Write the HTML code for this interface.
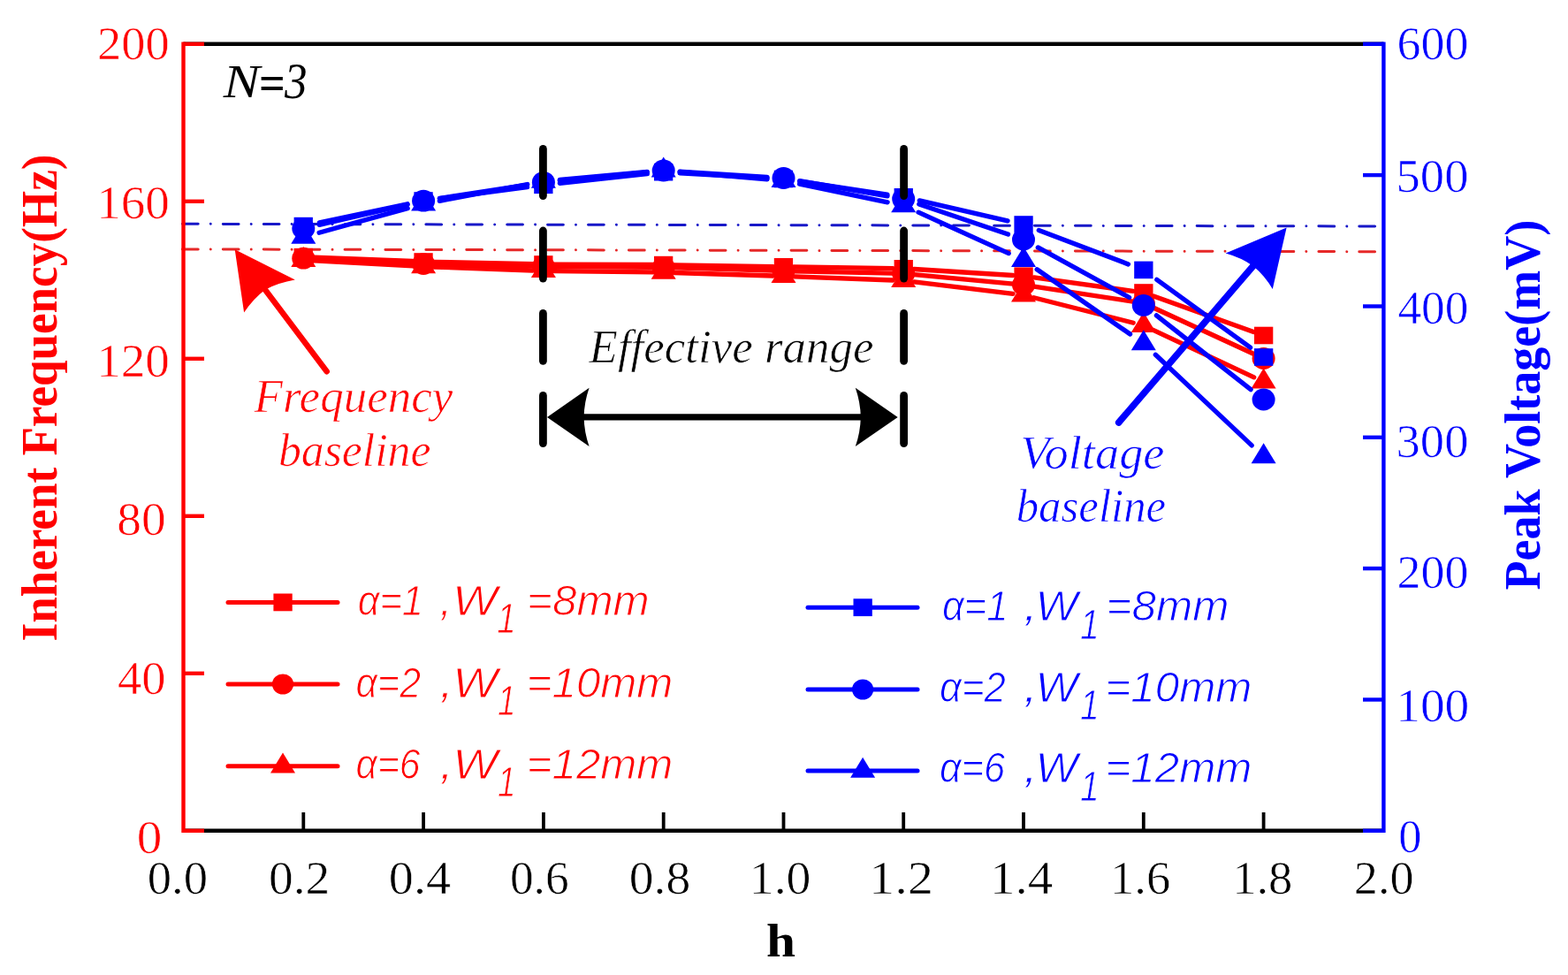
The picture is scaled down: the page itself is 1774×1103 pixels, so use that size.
<!DOCTYPE html>
<html><head><meta charset="utf-8"><title>Inherent Frequency and Peak Voltage vs h</title>
<style>html,body{margin:0;padding:0;background:#fff;overflow:hidden}svg{display:block}</style></head>
<body><svg width="1774" height="1103" viewBox="0 0 1774 1103">
<rect width="1774" height="1103" fill="#fff"/>
<line x1="206.4" y1="253.3" x2="1556.3" y2="256" stroke="#1818c8" stroke-width="3" stroke-linecap="round" stroke-dasharray="17.8 14.1 0.01 14.0"/>
<line x1="206.4" y1="281.9" x2="1556.3" y2="284.7" stroke="#e62828" stroke-width="3" stroke-linecap="round" stroke-dasharray="17.8 14.1 0.01 14.0"/>
<path d="M355.3,291.2L467.1,295.5M491.1,296.3L602.9,298.7M626.9,299.1L738.7,299.5M762.7,299.8L874.5,301.6M898.4,302.0L1010.2,303.6M1034.2,304.5L1146.1,311.5M1169.9,313.8L1281.9,329.4M1305.1,335.0L1418.3,375.5" stroke="#ff0000" stroke-width="5.3" stroke-linecap="round" fill="none"/>
<rect x="332.6" y="280.9" width="21.3" height="19.6" fill="#ff0000"/>
<rect x="468.4" y="286.2" width="21.3" height="19.6" fill="#ff0000"/>
<rect x="604.2" y="289.2" width="21.3" height="19.6" fill="#ff0000"/>
<rect x="740.0" y="289.8" width="21.3" height="19.6" fill="#ff0000"/>
<rect x="875.8" y="292.0" width="21.3" height="19.6" fill="#ff0000"/>
<rect x="1011.6" y="294.0" width="21.3" height="19.6" fill="#ff0000"/>
<rect x="1147.4" y="302.4" width="21.3" height="19.6" fill="#ff0000"/>
<rect x="1283.2" y="321.2" width="21.3" height="19.6" fill="#ff0000"/>
<rect x="1419.0" y="369.7" width="21.3" height="19.6" fill="#ff0000"/>
<path d="M355.3,292.8L467.1,298.0M491.1,298.9L602.9,301.2M626.9,301.6L738.7,302.4M762.7,302.9L874.5,306.1M898.4,306.8L1010.2,309.2M1034.2,310.6L1146.1,321.2M1169.9,324.1L1282.0,341.2M1304.7,348.0L1418.7,400.5" stroke="#ff0000" stroke-width="5.3" stroke-linecap="round" fill="none"/>
<ellipse cx="343.3" cy="292.2" rx="13.0" ry="12.4" fill="#ff0000"/>
<ellipse cx="479.1" cy="298.6" rx="13.0" ry="12.4" fill="#ff0000"/>
<ellipse cx="614.9" cy="301.5" rx="13.0" ry="12.4" fill="#ff0000"/>
<ellipse cx="750.7" cy="302.5" rx="13.0" ry="12.4" fill="#ff0000"/>
<ellipse cx="886.5" cy="306.5" rx="13.0" ry="12.4" fill="#ff0000"/>
<ellipse cx="1022.2" cy="309.5" rx="13.0" ry="12.4" fill="#ff0000"/>
<ellipse cx="1158.0" cy="322.3" rx="13.0" ry="12.4" fill="#ff0000"/>
<ellipse cx="1293.8" cy="343.0" rx="13.0" ry="12.4" fill="#ff0000"/>
<ellipse cx="1429.6" cy="405.5" rx="13.0" ry="12.4" fill="#ff0000"/>
<path d="M355.3,294.9L467.1,300.9M491.1,302.0L602.9,306.0M626.9,306.6L738.7,307.9M762.7,308.5L874.5,312.0M898.4,312.8L1010.2,317.0M1034.2,318.8L1146.1,332.3M1169.7,336.7L1282.2,365.2M1304.7,373.3L1418.7,426.8" stroke="#ff0000" stroke-width="5.3" stroke-linecap="round" fill="none"/>
<path d="M343.3,278.9L357.3,301.9L329.3,301.9Z" fill="#ff0000"/>
<path d="M479.1,286.3L493.1,309.3L465.1,309.3Z" fill="#ff0000"/>
<path d="M614.9,291.1L628.9,314.1L600.9,314.1Z" fill="#ff0000"/>
<path d="M750.7,292.8L764.7,315.8L736.7,315.8Z" fill="#ff0000"/>
<path d="M886.5,297.1L900.5,320.1L872.5,320.1Z" fill="#ff0000"/>
<path d="M1022.2,302.1L1036.2,325.1L1008.2,325.1Z" fill="#ff0000"/>
<path d="M1158.0,318.4L1172.0,341.4L1144.0,341.4Z" fill="#ff0000"/>
<path d="M1293.8,352.9L1307.8,375.9L1279.8,375.9Z" fill="#ff0000"/>
<path d="M1429.6,416.6L1443.6,439.6L1415.6,439.6Z" fill="#ff0000"/>
<path d="M361.4,251.8L461.0,230.8M497.4,224.6L596.5,211.7M633.3,207.3L732.3,196.7M769.1,195.8L868.0,201.4M904.7,205.2L1003.9,220.1M1040.3,226.9L1140.0,249.9M1175.3,260.5L1276.5,298.9M1308.8,316.3L1414.6,393.1" stroke="#0000ff" stroke-width="5.3" stroke-linecap="round" fill="none"/>
<rect x="332.6" y="245.8" width="21.3" height="19.6" fill="#0000ff"/>
<rect x="468.4" y="217.2" width="21.3" height="19.6" fill="#0000ff"/>
<rect x="604.2" y="199.5" width="21.3" height="19.6" fill="#0000ff"/>
<rect x="740.0" y="184.9" width="21.3" height="19.6" fill="#0000ff"/>
<rect x="875.8" y="192.7" width="21.3" height="19.6" fill="#0000ff"/>
<rect x="1011.6" y="213.0" width="21.3" height="19.6" fill="#0000ff"/>
<rect x="1147.4" y="244.2" width="21.3" height="19.6" fill="#0000ff"/>
<rect x="1283.2" y="295.6" width="21.3" height="19.6" fill="#0000ff"/>
<rect x="1419.0" y="394.2" width="21.3" height="19.6" fill="#0000ff"/>
<path d="M361.3,254.3L461.1,231.4M497.4,224.4L596.6,209.1M633.3,204.5L732.2,194.8M769.1,194.2L868.0,200.3M904.7,204.7L1004.0,221.8M1039.8,230.9L1140.5,265.1M1174.3,279.9L1277.6,336.5M1308.4,356.8L1415.1,440.6" stroke="#0000ff" stroke-width="5.3" stroke-linecap="round" fill="none"/>
<ellipse cx="343.3" cy="258.5" rx="13.0" ry="12.4" fill="#0000ff"/>
<ellipse cx="479.1" cy="227.2" rx="13.0" ry="12.4" fill="#0000ff"/>
<ellipse cx="614.9" cy="206.3" rx="13.0" ry="12.4" fill="#0000ff"/>
<ellipse cx="750.7" cy="193.0" rx="13.0" ry="12.4" fill="#0000ff"/>
<ellipse cx="886.5" cy="201.5" rx="13.0" ry="12.4" fill="#0000ff"/>
<ellipse cx="1022.2" cy="225.0" rx="13.0" ry="12.4" fill="#0000ff"/>
<ellipse cx="1158.0" cy="271.0" rx="13.0" ry="12.4" fill="#0000ff"/>
<ellipse cx="1293.8" cy="345.4" rx="13.0" ry="12.4" fill="#0000ff"/>
<ellipse cx="1429.6" cy="452.0" rx="13.0" ry="12.4" fill="#0000ff"/>
<path d="M361.1,263.2L461.2,235.6M497.3,227.3L596.7,208.5M633.3,203.4L732.2,194.5M769.1,194.4L868.0,202.8M904.6,208.1L1004.1,228.8M1039.1,240.2L1141.2,286.6M1173.2,304.8L1278.6,378.0M1307.3,401.2L1416.2,503.9" stroke="#0000ff" stroke-width="5.3" stroke-linecap="round" fill="none"/>
<path d="M343.3,252.8L357.3,275.8L329.3,275.8Z" fill="#0000ff"/>
<path d="M479.1,215.4L493.1,238.4L465.1,238.4Z" fill="#0000ff"/>
<path d="M614.9,189.8L628.9,212.8L600.9,212.8Z" fill="#0000ff"/>
<path d="M750.7,177.5L764.7,200.5L736.7,200.5Z" fill="#0000ff"/>
<path d="M886.5,189.1L900.5,212.1L872.5,212.1Z" fill="#0000ff"/>
<path d="M1022.2,217.2L1036.2,240.2L1008.2,240.2Z" fill="#0000ff"/>
<path d="M1158.0,279.0L1172.0,302.0L1144.0,302.0Z" fill="#0000ff"/>
<path d="M1293.8,373.2L1307.8,396.2L1279.8,396.2Z" fill="#0000ff"/>
<path d="M1429.6,501.3L1443.6,524.3L1415.6,524.3Z" fill="#0000ff"/>
<line x1="207.5" y1="49.8" x2="1565.4" y2="49.8" stroke="#000000" stroke-width="4.4"/>
<line x1="207.5" y1="939.8" x2="1565.4" y2="939.8" stroke="#000000" stroke-width="4.4"/>
<line x1="207.5" y1="47.599999999999994" x2="207.5" y2="942.0" stroke="#ff0000" stroke-width="4.4"/>
<line x1="1565.4" y1="47.599999999999994" x2="1565.4" y2="942.0" stroke="#0000ff" stroke-width="4.4"/>
<line x1="207.5" y1="49.8" x2="231" y2="49.8" stroke="#ff0000" stroke-width="4.4"/>
<line x1="207.5" y1="227.8" x2="231" y2="227.8" stroke="#ff0000" stroke-width="4.4"/>
<line x1="207.5" y1="405.8" x2="231" y2="405.8" stroke="#ff0000" stroke-width="4.4"/>
<line x1="207.5" y1="583.8" x2="231" y2="583.8" stroke="#ff0000" stroke-width="4.4"/>
<line x1="207.5" y1="761.8" x2="231" y2="761.8" stroke="#ff0000" stroke-width="4.4"/>
<line x1="207.5" y1="939.8" x2="231" y2="939.8" stroke="#ff0000" stroke-width="4.4"/>
<line x1="1542" y1="49.8" x2="1565.4" y2="49.8" stroke="#0000ff" stroke-width="4.4"/>
<line x1="1542" y1="198.1" x2="1565.4" y2="198.1" stroke="#0000ff" stroke-width="4.4"/>
<line x1="1542" y1="346.5" x2="1565.4" y2="346.5" stroke="#0000ff" stroke-width="4.4"/>
<line x1="1542" y1="494.8" x2="1565.4" y2="494.8" stroke="#0000ff" stroke-width="4.4"/>
<line x1="1542" y1="643.1" x2="1565.4" y2="643.1" stroke="#0000ff" stroke-width="4.4"/>
<line x1="1542" y1="791.5" x2="1565.4" y2="791.5" stroke="#0000ff" stroke-width="4.4"/>
<line x1="1542" y1="939.8" x2="1565.4" y2="939.8" stroke="#0000ff" stroke-width="4.4"/>
<line x1="343.3" y1="919" x2="343.3" y2="939.8" stroke="#000000" stroke-width="3.8"/>
<line x1="479.1" y1="919" x2="479.1" y2="939.8" stroke="#000000" stroke-width="3.8"/>
<line x1="614.9" y1="919" x2="614.9" y2="939.8" stroke="#000000" stroke-width="3.8"/>
<line x1="750.7" y1="919" x2="750.7" y2="939.8" stroke="#000000" stroke-width="3.8"/>
<line x1="886.5" y1="919" x2="886.5" y2="939.8" stroke="#000000" stroke-width="3.8"/>
<line x1="1022.2" y1="919" x2="1022.2" y2="939.8" stroke="#000000" stroke-width="3.8"/>
<line x1="1158.0" y1="919" x2="1158.0" y2="939.8" stroke="#000000" stroke-width="3.8"/>
<line x1="1293.8" y1="919" x2="1293.8" y2="939.8" stroke="#000000" stroke-width="3.8"/>
<line x1="1429.6" y1="919" x2="1429.6" y2="939.8" stroke="#000000" stroke-width="3.8"/>
<line x1="614.4" y1="168.4" x2="614.4" y2="221.6" stroke="#000000" stroke-width="8.8" stroke-linecap="round"/>
<line x1="614.4" y1="261.0" x2="614.4" y2="315.1" stroke="#000000" stroke-width="8.8" stroke-linecap="round"/>
<line x1="614.4" y1="354.4" x2="614.4" y2="408.3" stroke="#000000" stroke-width="8.8" stroke-linecap="round"/>
<line x1="614.4" y1="447.4" x2="614.4" y2="501.6" stroke="#000000" stroke-width="8.8" stroke-linecap="round"/>
<line x1="1022.6" y1="168.4" x2="1022.6" y2="221.6" stroke="#000000" stroke-width="8.8" stroke-linecap="round"/>
<line x1="1022.6" y1="261.0" x2="1022.6" y2="315.1" stroke="#000000" stroke-width="8.8" stroke-linecap="round"/>
<line x1="1022.6" y1="354.4" x2="1022.6" y2="408.3" stroke="#000000" stroke-width="8.8" stroke-linecap="round"/>
<line x1="1022.6" y1="447.4" x2="1022.6" y2="501.6" stroke="#000000" stroke-width="8.8" stroke-linecap="round"/>
<line x1="655" y1="471.9" x2="980" y2="471.9" stroke="#000000" stroke-width="7.3"/>
<path d="M619.0,471.9L666.6,505.0Q660.9,488.4 660.6,471.9Q660.9,455.3 666.6,438.8Z" fill="#000000"/>
<path d="M1015.7,471.9L967.8,438.8Q973.5,455.3 973.8,471.9Q973.5,488.4 967.8,505.0Z" fill="#000000"/>
<line x1="296" y1="322.5" x2="369.7" y2="420.2" stroke="#ff0000" stroke-width="6.5" stroke-linecap="round"/>
<path d="M265.7,282.3L333.8,316.6Q315.1,319.8 300.0,327.8Q286.2,338.3 276.1,353.6Z" fill="#ff0000"/>
<line x1="1422" y1="296" x2="1265.7" y2="478.0" stroke="#0000ff" stroke-width="7.6" stroke-linecap="round"/>
<path d="M1455.6,257.4L1386.6,286.6Q1404.2,291.5 1417.8,301.0Q1430.8,311.7 1439.8,327.0Z" fill="#0000ff"/>
<line x1="258" y1="681.4" x2="382" y2="681.4" stroke="#ff0000" stroke-width="5" stroke-linecap="round"/>
<rect x="309.4" y="671.5" width="21.3" height="19.8" fill="#ff0000"/>
<line x1="258" y1="774" x2="382" y2="774" stroke="#ff0000" stroke-width="5" stroke-linecap="round"/>
<ellipse cx="320.0" cy="774.0" rx="12.1" ry="11.6" fill="#ff0000"/>
<line x1="258" y1="866.8" x2="382" y2="866.8" stroke="#ff0000" stroke-width="5" stroke-linecap="round"/>
<path d="M320.0,851.5L334.0,874.5L306.0,874.5Z" fill="#ff0000"/>
<line x1="914" y1="687.2" x2="1038" y2="687.2" stroke="#0000ff" stroke-width="5" stroke-linecap="round"/>
<rect x="965.5" y="677.3" width="21.3" height="19.8" fill="#0000ff"/>
<line x1="914" y1="780" x2="1038" y2="780" stroke="#0000ff" stroke-width="5" stroke-linecap="round"/>
<ellipse cx="976.1" cy="780.0" rx="12.1" ry="11.6" fill="#0000ff"/>
<line x1="914" y1="872" x2="1038" y2="872" stroke="#0000ff" stroke-width="5" stroke-linecap="round"/>
<path d="M976.1,856.7L990.1,879.7L962.1,879.7Z" fill="#0000ff"/>
<text font-family="Liberation Sans, sans-serif" font-size="49" font-style="italic" fill="#ff0000" stroke="#fff" stroke-width="1.0" x="404.7" y="695.9" textLength="74.2" lengthAdjust="spacingAndGlyphs">α=1</text>
<text font-family="Liberation Sans, sans-serif" font-size="49" font-style="italic" fill="#ff0000" stroke="#fff" stroke-width="1.0" x="497.5" y="695.9" textLength="13.7" lengthAdjust="spacingAndGlyphs">,</text>
<text font-family="Liberation Sans, sans-serif" font-size="49" font-style="italic" fill="#ff0000" stroke="#fff" stroke-width="1.0" x="512.0" y="695.9" textLength="50.8" lengthAdjust="spacingAndGlyphs">W</text>
<text font-family="Liberation Sans, sans-serif" font-size="49" font-style="italic" fill="#ff0000" stroke="#fff" stroke-width="1.0" x="562.2" y="716.4" textLength="21.4" lengthAdjust="spacingAndGlyphs">1</text>
<text font-family="Liberation Sans, sans-serif" font-size="49" font-style="italic" fill="#ff0000" stroke="#fff" stroke-width="1.0" x="596.1" y="695.9" textLength="138.6" lengthAdjust="spacingAndGlyphs">=8mm</text>
<text font-family="Liberation Sans, sans-serif" font-size="49" font-style="italic" fill="#ff0000" stroke="#fff" stroke-width="1.0" x="402.6" y="788.8" textLength="73.5" lengthAdjust="spacingAndGlyphs">α=2</text>
<text font-family="Liberation Sans, sans-serif" font-size="49" font-style="italic" fill="#ff0000" stroke="#fff" stroke-width="1.0" x="497.4" y="788.8" textLength="15.5" lengthAdjust="spacingAndGlyphs">,</text>
<text font-family="Liberation Sans, sans-serif" font-size="49" font-style="italic" fill="#ff0000" stroke="#fff" stroke-width="1.0" x="512.2" y="788.8" textLength="50.9" lengthAdjust="spacingAndGlyphs">W</text>
<text font-family="Liberation Sans, sans-serif" font-size="49" font-style="italic" fill="#ff0000" stroke="#fff" stroke-width="1.0" x="562.9" y="809.3" textLength="20.4" lengthAdjust="spacingAndGlyphs">1</text>
<text font-family="Liberation Sans, sans-serif" font-size="49" font-style="italic" fill="#ff0000" stroke="#fff" stroke-width="1.0" x="595.8" y="788.8" textLength="165.5" lengthAdjust="spacingAndGlyphs">=10mm</text>
<text font-family="Liberation Sans, sans-serif" font-size="49" font-style="italic" fill="#ff0000" stroke="#fff" stroke-width="1.0" x="402.6" y="880.6" textLength="72.9" lengthAdjust="spacingAndGlyphs">α=6</text>
<text font-family="Liberation Sans, sans-serif" font-size="49" font-style="italic" fill="#ff0000" stroke="#fff" stroke-width="1.0" x="497.4" y="880.6" textLength="15.5" lengthAdjust="spacingAndGlyphs">,</text>
<text font-family="Liberation Sans, sans-serif" font-size="49" font-style="italic" fill="#ff0000" stroke="#fff" stroke-width="1.0" x="512.2" y="880.6" textLength="50.9" lengthAdjust="spacingAndGlyphs">W</text>
<text font-family="Liberation Sans, sans-serif" font-size="49" font-style="italic" fill="#ff0000" stroke="#fff" stroke-width="1.0" x="562.9" y="901.1" textLength="20.4" lengthAdjust="spacingAndGlyphs">1</text>
<text font-family="Liberation Sans, sans-serif" font-size="49" font-style="italic" fill="#ff0000" stroke="#fff" stroke-width="1.0" x="595.8" y="880.6" textLength="165.5" lengthAdjust="spacingAndGlyphs">=12mm</text>
<text font-family="Liberation Sans, sans-serif" font-size="49" font-style="italic" fill="#0000ff" stroke="#fff" stroke-width="1.0" x="1066.0" y="702.4" textLength="74.5" lengthAdjust="spacingAndGlyphs">α=1</text>
<text font-family="Liberation Sans, sans-serif" font-size="49" font-style="italic" fill="#0000ff" stroke="#fff" stroke-width="1.0" x="1157.9" y="702.4" textLength="16.2" lengthAdjust="spacingAndGlyphs">,</text>
<text font-family="Liberation Sans, sans-serif" font-size="49" font-style="italic" fill="#0000ff" stroke="#fff" stroke-width="1.0" x="1171.5" y="702.4" textLength="48.0" lengthAdjust="spacingAndGlyphs">W</text>
<text font-family="Liberation Sans, sans-serif" font-size="49" font-style="italic" fill="#0000ff" stroke="#fff" stroke-width="1.0" x="1222.1" y="722.9" textLength="21.6" lengthAdjust="spacingAndGlyphs">1</text>
<text font-family="Liberation Sans, sans-serif" font-size="49" font-style="italic" fill="#0000ff" stroke="#fff" stroke-width="1.0" x="1251.5" y="702.4" textLength="138.9" lengthAdjust="spacingAndGlyphs">=8mm</text>
<text font-family="Liberation Sans, sans-serif" font-size="49" font-style="italic" fill="#0000ff" stroke="#fff" stroke-width="1.0" x="1063.0" y="793.7" textLength="74.8" lengthAdjust="spacingAndGlyphs">α=2</text>
<text font-family="Liberation Sans, sans-serif" font-size="49" font-style="italic" fill="#0000ff" stroke="#fff" stroke-width="1.0" x="1157.9" y="793.7" textLength="16.2" lengthAdjust="spacingAndGlyphs">,</text>
<text font-family="Liberation Sans, sans-serif" font-size="49" font-style="italic" fill="#0000ff" stroke="#fff" stroke-width="1.0" x="1171.5" y="793.7" textLength="48.0" lengthAdjust="spacingAndGlyphs">W</text>
<text font-family="Liberation Sans, sans-serif" font-size="49" font-style="italic" fill="#0000ff" stroke="#fff" stroke-width="1.0" x="1222.1" y="814.2" textLength="21.6" lengthAdjust="spacingAndGlyphs">1</text>
<text font-family="Liberation Sans, sans-serif" font-size="49" font-style="italic" fill="#0000ff" stroke="#fff" stroke-width="1.0" x="1250.5" y="793.7" textLength="165.8" lengthAdjust="spacingAndGlyphs">=10mm</text>
<text font-family="Liberation Sans, sans-serif" font-size="49" font-style="italic" fill="#0000ff" stroke="#fff" stroke-width="1.0" x="1063.0" y="885.0" textLength="74.1" lengthAdjust="spacingAndGlyphs">α=6</text>
<text font-family="Liberation Sans, sans-serif" font-size="49" font-style="italic" fill="#0000ff" stroke="#fff" stroke-width="1.0" x="1157.9" y="885.0" textLength="16.2" lengthAdjust="spacingAndGlyphs">,</text>
<text font-family="Liberation Sans, sans-serif" font-size="49" font-style="italic" fill="#0000ff" stroke="#fff" stroke-width="1.0" x="1171.5" y="885.0" textLength="48.0" lengthAdjust="spacingAndGlyphs">W</text>
<text font-family="Liberation Sans, sans-serif" font-size="49" font-style="italic" fill="#0000ff" stroke="#fff" stroke-width="1.0" x="1222.1" y="905.5" textLength="21.6" lengthAdjust="spacingAndGlyphs">1</text>
<text font-family="Liberation Sans, sans-serif" font-size="49" font-style="italic" fill="#0000ff" stroke="#fff" stroke-width="1.0" x="1250.5" y="885.0" textLength="165.8" lengthAdjust="spacingAndGlyphs">=12mm</text>
<text font-family="Liberation Serif, serif" font-size="52.5" fill="#ff0000" stroke="#fff" stroke-width="0.6" x="110.1" y="66.6" textLength="81.6" lengthAdjust="spacingAndGlyphs">200</text>
<text font-family="Liberation Serif, serif" font-size="52.5" fill="#ff0000" stroke="#fff" stroke-width="0.6" x="109.2" y="247.0" textLength="82.7" lengthAdjust="spacingAndGlyphs">160</text>
<text font-family="Liberation Serif, serif" font-size="52.5" fill="#ff0000" stroke="#fff" stroke-width="0.6" x="109.2" y="425.7" textLength="82.7" lengthAdjust="spacingAndGlyphs">120</text>
<text font-family="Liberation Serif, serif" font-size="52.5" fill="#ff0000" stroke="#fff" stroke-width="0.6" x="132.2" y="605.4" textLength="55.4" lengthAdjust="spacingAndGlyphs">80</text>
<text font-family="Liberation Serif, serif" font-size="52.5" fill="#ff0000" stroke="#fff" stroke-width="0.6" x="133.0" y="784.9" textLength="54.5" lengthAdjust="spacingAndGlyphs">40</text>
<text font-family="Liberation Serif, serif" font-size="52.5" fill="#ff0000" stroke="#fff" stroke-width="0.6" x="154.7" y="964.6" textLength="28.6" lengthAdjust="spacingAndGlyphs">0</text>
<text font-family="Liberation Serif, serif" font-size="52.5" fill="#0000ff" stroke="#fff" stroke-width="0.6" x="1580.5" y="66.7" textLength="80.9" lengthAdjust="spacingAndGlyphs">600</text>
<text font-family="Liberation Serif, serif" font-size="52.5" fill="#0000ff" stroke="#fff" stroke-width="0.6" x="1579.6" y="216.8" textLength="81.8" lengthAdjust="spacingAndGlyphs">500</text>
<text font-family="Liberation Serif, serif" font-size="52.5" fill="#0000ff" stroke="#fff" stroke-width="0.6" x="1581.4" y="365.6" textLength="80.0" lengthAdjust="spacingAndGlyphs">400</text>
<text font-family="Liberation Serif, serif" font-size="52.5" fill="#0000ff" stroke="#fff" stroke-width="0.6" x="1579.6" y="516.6" textLength="81.8" lengthAdjust="spacingAndGlyphs">300</text>
<text font-family="Liberation Serif, serif" font-size="52.5" fill="#0000ff" stroke="#fff" stroke-width="0.6" x="1580.5" y="665.3" textLength="80.9" lengthAdjust="spacingAndGlyphs">200</text>
<text font-family="Liberation Serif, serif" font-size="52.5" fill="#0000ff" stroke="#fff" stroke-width="0.6" x="1579.2" y="815.5" textLength="83.1" lengthAdjust="spacingAndGlyphs">100</text>
<text font-family="Liberation Serif, serif" font-size="52.5" fill="#0000ff" stroke="#fff" stroke-width="0.6" x="1582.3" y="964.1" textLength="26.2" lengthAdjust="spacingAndGlyphs">0</text>
<text font-family="Liberation Serif, serif" font-size="52.5" fill="#000000" stroke="#fff" stroke-width="0.6" x="166.7" y="1011.0" textLength="68.3" lengthAdjust="spacingAndGlyphs">0.0</text>
<text font-family="Liberation Serif, serif" font-size="52.5" fill="#000000" stroke="#fff" stroke-width="0.6" x="304.0" y="1011.0" textLength="69.3" lengthAdjust="spacingAndGlyphs">0.2</text>
<text font-family="Liberation Serif, serif" font-size="52.5" fill="#000000" stroke="#fff" stroke-width="0.6" x="439.8" y="1011.0" textLength="70.2" lengthAdjust="spacingAndGlyphs">0.4</text>
<text font-family="Liberation Serif, serif" font-size="52.5" fill="#000000" stroke="#fff" stroke-width="0.6" x="576.9" y="1011.0" textLength="66.7" lengthAdjust="spacingAndGlyphs">0.6</text>
<text font-family="Liberation Serif, serif" font-size="52.5" fill="#000000" stroke="#fff" stroke-width="0.6" x="711.8" y="1011.0" textLength="69.5" lengthAdjust="spacingAndGlyphs">0.8</text>
<text font-family="Liberation Serif, serif" font-size="52.5" fill="#000000" stroke="#fff" stroke-width="0.6" x="847.8" y="1011.0" textLength="69.7" lengthAdjust="spacingAndGlyphs">1.0</text>
<text font-family="Liberation Serif, serif" font-size="52.5" fill="#000000" stroke="#fff" stroke-width="0.6" x="982.9" y="1011.0" textLength="73.2" lengthAdjust="spacingAndGlyphs">1.2</text>
<text font-family="Liberation Serif, serif" font-size="52.5" fill="#000000" stroke="#fff" stroke-width="0.6" x="1120.0" y="1011.0" textLength="71.2" lengthAdjust="spacingAndGlyphs">1.4</text>
<text font-family="Liberation Serif, serif" font-size="52.5" fill="#000000" stroke="#fff" stroke-width="0.6" x="1256.1" y="1011.0" textLength="68.2" lengthAdjust="spacingAndGlyphs">1.6</text>
<text font-family="Liberation Serif, serif" font-size="52.5" fill="#000000" stroke="#fff" stroke-width="0.6" x="1394.2" y="1011.0" textLength="68.2" lengthAdjust="spacingAndGlyphs">1.8</text>
<text font-family="Liberation Serif, serif" font-size="52.5" fill="#000000" stroke="#fff" stroke-width="0.6" x="1531.8" y="1011.0" textLength="67.7" lengthAdjust="spacingAndGlyphs">2.0</text>
<text font-family="Liberation Serif, serif" font-size="53" font-weight="700" fill="#000000" x="867.1" y="1081.5" textLength="33.0" lengthAdjust="spacingAndGlyphs">h</text>
<text font-family="Liberation Serif, serif" font-size="57" font-weight="700" fill="#ff0000" transform="translate(64,0) rotate(-90)" x="-725.5" y="0.0" textLength="550.9" lengthAdjust="spacingAndGlyphs">Inherent Frequency(Hz)</text>
<text font-family="Liberation Serif, serif" font-size="57" font-weight="700" fill="#0000ff" transform="translate(1742,0) rotate(-90)" x="-667.5" y="0.0" textLength="418.8" lengthAdjust="spacingAndGlyphs">Peak Voltage(mV)</text>
<text font-family="Liberation Serif, serif" font-size="53" font-style="italic" fill="#000000" x="252.8" y="110.4" textLength="41.2" lengthAdjust="spacingAndGlyphs">N</text>
<text font-family="Liberation Serif, serif" font-size="54" font-weight="700" fill="#000000" x="292.9" y="111.8" textLength="29.8" lengthAdjust="spacingAndGlyphs">=</text>
<text font-family="Liberation Serif, serif" font-size="56" font-style="italic" fill="#000000" x="322.0" y="111.3" textLength="25.5" lengthAdjust="spacingAndGlyphs">3</text>
<text font-family="Liberation Serif, serif" font-size="53" font-style="italic" fill="#000000" stroke="#fff" stroke-width="0.7" x="666.6" y="410.3" textLength="321.8" lengthAdjust="spacingAndGlyphs">Effective range</text>
<text font-family="Liberation Serif, serif" font-size="53" font-style="italic" fill="#ff0000" stroke="#fff" stroke-width="0.7" x="287.6" y="466.0" textLength="224.6" lengthAdjust="spacingAndGlyphs">Frequency</text>
<text font-family="Liberation Serif, serif" font-size="53" font-style="italic" fill="#ff0000" stroke="#fff" stroke-width="0.7" x="314.9" y="526.9" textLength="172.6" lengthAdjust="spacingAndGlyphs">baseline</text>
<text font-family="Liberation Serif, serif" font-size="53" font-style="italic" fill="#0000ff" stroke="#fff" stroke-width="0.7" x="1154.3" y="529.6" textLength="163.2" lengthAdjust="spacingAndGlyphs">Voltage</text>
<text font-family="Liberation Serif, serif" font-size="53" font-style="italic" fill="#0000ff" stroke="#fff" stroke-width="0.7" x="1149.7" y="589.9" textLength="169.5" lengthAdjust="spacingAndGlyphs">baseline</text>
</svg></body></html>
